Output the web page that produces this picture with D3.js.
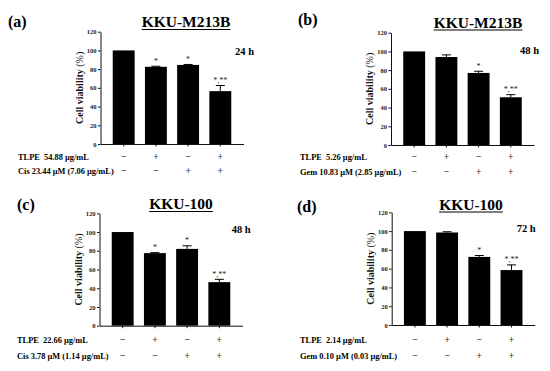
<!DOCTYPE html>
<html>
<head>
<meta charset="utf-8">
<script src="https://cdn.jsdelivr.net/npm/d3@7"></script>
<style>
  body { margin: 0; background: #fff; }
  svg { display: block; font-family: "Liberation Serif", "Times New Roman", serif; }
  text { white-space: pre; }
</style>
</head>
<body>
<div id="chart"></div>
<script>
// values
var groups = ['g1', 'g2', 'g3', 'g4']
var yTicks = [0, 20, 40, 60, 80, 100, 120]

var panelLetters = ['(a)', '(b)', '(c)', '(d)']
var cellLines = ['KKU-M213B', 'KKU-M213B', 'KKU-100', 'KKU-100']
var times = ['24 h', '48 h', '48 h', '72 h']
var row1Labels = ['TLPE  54.88 \u00b5g/mL', 'TLPE  5.26 \u00b5g/mL', 'TLPE  22.66 \u00b5g/mL', 'TLPE  2.14 \u00b5g/mL']
var row2Labels = ['Cis 23.44 \u00b5M (7.06 \u00b5g/mL)', 'Gem 10.83 \u00b5M (2.85 \u00b5g/mL)',
                  'Cis 3.78 \u00b5M (1.14 \u00b5g/mL)', 'Gem 0.10 \u00b5M (0.03 \u00b5g/mL)']
var row1Signs = ['\u2212', '+', '\u2212', '+']
var row2Signs = ['\u2212', '\u2212', '+', '+']

var valuesA = [100, 82.5, 84.5, 56.5]
var errorsA = [0, 0.6, 0.5, 6]
var starsA = ['', '*', '*', '*,**']

var valuesB = [100, 94, 77, 51]
var errorsB = [0, 2.3, 1.8, 2.8]
var starsB = ['', '', '*', '*,**']

var valuesC = [100, 77.5, 82, 46.5]
var errorsC = [0, 0.5, 3.3, 3]
var starsC = ['', '*', '*', '*,**']

var valuesD = [100, 98.5, 72.5, 58.5]
var errorsD = [0, 0.8, 1.5, 5.5]
var starsD = ['', '', '*', '*,**']

var allValues = [valuesA, valuesB, valuesC, valuesD]
var allErrors = [errorsA, errorsB, errorsC, errorsD]
var allStars = [starsA, starsB, starsC, starsD]

// where each panel sits on the page
var layout = [
    { axisX: 100.5, y0: 144, y120: 31.7, letter: [8, 26.5], title: [186, 27], time: [235, 55], rowX: 18, rows: [159.5, 173.5] },
    { axisX: 391, y0: 145, y120: 32.7, letter: [298, 25], title: [478, 27.5], time: [520, 53.5], rowX: 300, rows: [159.5, 174.5] },
    { axisX: 99.5, y0: 325.7, y120: 213.3, letter: [17, 210], title: [181, 209], time: [231.7, 232.7], rowX: 17, rows: [342.5, 358.5] },
    { axisX: 391.7, y0: 325, y120: 212.3, letter: [297, 211.5], title: [471, 209.5], time: [516.7, 231.7], rowX: 300, rows: [342.5, 358.5] }
]

var W = 550, H = 371
var svg = d3.select('#chart').append('svg')
    .attr('width', W)
    .attr('height', H)

layout.forEach(function(p, i){
    var g = svg.append('g')
    var values = allValues[i], errors = allErrors[i], stars = allStars[i]

    var x = d3.scaleBand()
        .domain(groups)
        .range([p.axisX, p.axisX + 143])
        .paddingInner(0.32)
        .paddingOuter(0.38)
    var y = d3.scaleLinear()
        .domain([0, 120])
        .range([p.y0, p.y120])

    function cx(j){ return x(groups[j]) + x.bandwidth()/2 }

    // bars
    g.selectAll('rect.bar')
        .data(values)
        .enter().append('rect')
        .attr('class', 'bar')
        .attr('x', function(d, j){ return x(groups[j]) })
        .attr('width', x.bandwidth())
        .attr('y', function(d){ return y(d) })
        .attr('height', function(d){ return p.y0 - y(d) })
        .attr('fill', '#000')

    // error bars (upper only, lower one hides in the bar)
    var eb = g.selectAll('g.err')
        .data(values.map(function(v, j){ return { j: j, v: v, e: errors[j] } }))
        .enter().append('g')
        .attr('class', 'err')
        .filter(function(d){ return d.e > 0 })
    eb.append('line')
        .attr('x1', function(d){ return cx(d.j) })
        .attr('x2', function(d){ return cx(d.j) })
        .attr('y1', function(d){ return y(d.v) })
        .attr('y2', function(d){ return y(d.v + d.e) })
        .attr('stroke', '#000').attr('stroke-width', 1)
    eb.append('line')
        .attr('x1', function(d){ return cx(d.j) - 4.5 })
        .attr('x2', function(d){ return cx(d.j) + 4.5 })
        .attr('y1', function(d){ return y(d.v + d.e) })
        .attr('y2', function(d){ return y(d.v + d.e) })
        .attr('stroke', '#000').attr('stroke-width', 1)

    // significance stars
    g.selectAll('text.star')
        .data(stars)
        .enter().append('text')
        .attr('class', 'star')
        .attr('x', function(d, j){ return cx(j) })
        .attr('y', function(d, j){ return y(values[j] + errors[j]) - 2.5 })
        .attr('text-anchor', 'middle')
        .attr('font-size', '8px')
        .attr('fill', '#222')
        .text(function(d){ return d })

    // y axis
    var yAxis = g.append('g')
        .attr('transform', 'translate(' + p.axisX + ',0)')
        .call(d3.axisLeft(y).tickValues(yTicks).tickSize(2.5).tickSizeOuter(0).tickPadding(1.5))
    yAxis.select('.domain').attr('stroke', '#111')
    yAxis.selectAll('.tick line').attr('stroke', '#111')
    yAxis.selectAll('.tick text')
        .attr('font-size', '6.5px')
        .attr('font-weight', 'bold')
        .attr('font-family', '"Liberation Serif", serif')
        .attr('fill', '#222')

    // x axis
    var xAxis = g.append('g')
        .attr('transform', 'translate(0,' + p.y0 + ')')
        .call(d3.axisBottom(x).tickSize(2.5).tickSizeOuter(0).tickFormat(''))
    xAxis.select('.domain').attr('stroke', '#111')
    xAxis.selectAll('.tick line').attr('stroke', '#111')

    // y label
    var yl = g.append('text')
        .attr('transform', 'translate(' + (p.axisX - 18) + ',' + ((p.y0 + p.y120) / 2) + ') rotate(-90)')
        .attr('text-anchor', 'middle')
        .attr('font-size', '10px')
        .attr('font-weight', 'bold')
        .attr('fill', '#111')
    yl.append('tspan').text('Cell viability ')
    yl.append('tspan').attr('font-weight', 'normal').text('(%)')

    // panel letter
    g.append('text')
        .attr('x', p.letter[0]).attr('y', p.letter[1])
        .attr('font-size', '16px').attr('font-weight', 'bold')
        .text(panelLetters[i])

    // title with underline
    var t = g.append('text')
        .attr('x', p.title[0]).attr('y', p.title[1])
        .attr('text-anchor', 'middle')
        .attr('font-size', '15.5px').attr('font-weight', 'bold')
        .text(cellLines[i])
    var tw = t.node().getComputedTextLength()
    g.append('line')
        .attr('x1', p.title[0] - tw/2).attr('x2', p.title[0] + tw/2)
        .attr('y1', p.title[1] + 2.5).attr('y2', p.title[1] + 2.5)
        .attr('stroke', '#000').attr('stroke-width', 1.1)

    // time
    g.append('text')
        .attr('x', p.time[0]).attr('y', p.time[1])
        .attr('font-size', '10.5px').attr('font-weight', 'bold')
        .text(times[i])

    // treatment rows
    g.append('text')
        .attr('x', p.rowX).attr('y', p.rows[0])
        .attr('font-size', '8.4px').attr('font-weight', 'bold')
        .text(row1Labels[i])
    g.append('text')
        .attr('x', p.rowX).attr('y', p.rows[1])
        .attr('font-size', '8.4px').attr('font-weight', 'bold')
        .text(row2Labels[i])

    var signRows = [row1Signs, row2Signs]
    signRows.forEach(function(signs, r){
        g.selectAll('text.sign' + r)
            .data(signs)
            .enter().append('text')
            .attr('class', 'sign' + r)
            .attr('x', function(d, j){ return cx(j) })
            .attr('y', p.rows[r])
            .attr('text-anchor', 'middle')
            .attr('font-size', '9.5px')
            .attr('font-weight', 'bold')
            .attr('fill', '#333')
            .text(function(d){ return d })
    })
})
</script>
</body>
</html>
